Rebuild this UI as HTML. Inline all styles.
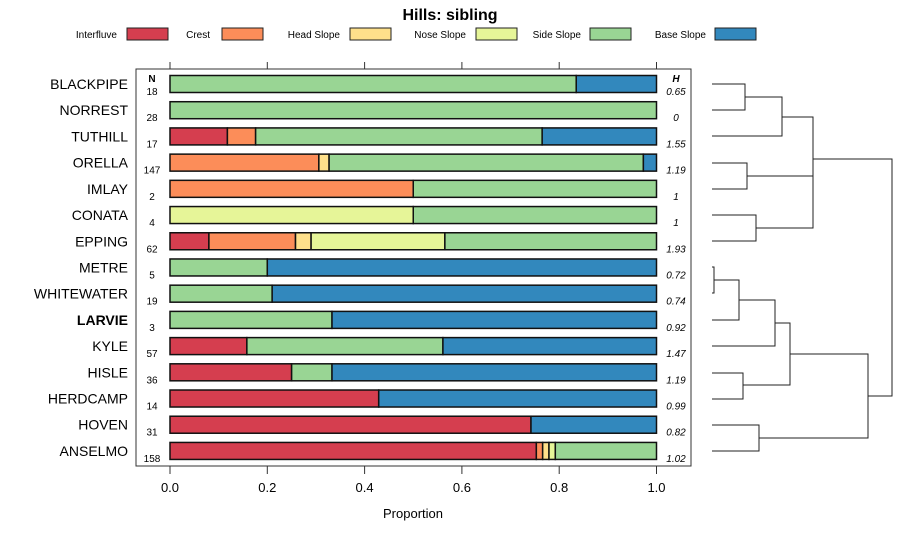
<!DOCTYPE html>
<html><head><meta charset="utf-8"><style>
body{margin:0;background:#fff;}
svg{display:block;font-family:"Liberation Sans",sans-serif;}
</style></head><body>
<svg id="c" width="900" height="540"></svg>
<script>
const categories=["BLACKPIPE","NORREST","TUTHILL","ORELLA","IMLAY","CONATA","EPPING","METRE","WHITEWATER","LARVIE","KYLE","HISLE","HERDCAMP","HOVEN","ANSELMO"];
const nValues=[18,28,17,147,2,4,62,5,19,3,57,36,14,31,158];
const hValues=["0.65","0","1.55","1.19","1","1","1.93","0.72","0.74","0.92","1.47","1.19","0.99","0.82","1.02"];
const seriesNames=["Interfluve","Crest","Head Slope","Nose Slope","Side Slope","Base Slope"];
const seriesColors=["#D53E4F","#FC8D59","#FEE08B","#E6F598","#99D594","#3288BD"];
const interfluve=[0,0,0.118,0,0,0,0.08,0,0,0,0.158,0.25,0.429,0.742,0.753];
const crest=[0,0,0.058,0.306,0.5,0,0.178,0,0,0,0,0,0,0,0.013];
const headSlope=[0,0,0,0.021,0,0,0.032,0,0,0,0,0,0,0,0.013];
const noseSlope=[0,0,0,0,0,0.5,0.275,0,0,0,0,0,0,0,0.013];
const sideSlope=[0.835,1,0.589,0.646,0.5,0.5,0.435,0.2,0.21,0.333,0.403,0.083,0,0,0.208];
const baseSlope=[0.165,0,0.235,0.027,0,0,0,0.8,0.79,0.667,0.439,0.667,0.571,0.258,0];
const xTicks=[0,0.2,0.4,0.6,0.8,1.0];
const series=[interfluve,crest,headSlope,noseSlope,sideSlope,baseSlope];

const svg=document.getElementById('c');
const NS='http://www.w3.org/2000/svg';
function mk(t,a,p){const e=document.createElementNS(NS,t);for(const k in a)e.setAttribute(k,a[k]);(p||svg).appendChild(e);return e;}
const X0=170,X1=656.5,Y0=84,DY=26.21,BH=17;
const xs=v=>X0+(X1-X0)*v;
const ys=i=>Y0+i*DY;

let t=mk('text',{x:450,y:20,'text-anchor':'middle','font-size':16,'font-weight':'bold'});t.textContent='Hills: sibling';



// legend
const legText=[117,210,340,466,581,706];
const legBox=[127,222,350,476,590,715];
seriesNames.forEach((n,i)=>{
  const g=mk('g',{});
  
  
  const tt=mk('text',{x:legText[i],y:38,'text-anchor':'end','font-size':10},g);tt.textContent=n;
  mk('rect',{x:legBox[i],y:28,width:41,height:12,fill:seriesColors[i],stroke:'#222','stroke-width':1},g);
});

// plot frame
const fr=mk('rect',{x:136,y:69,width:555,height:397,fill:'none',stroke:'#333','stroke-width':1});


xTicks.forEach(v=>{
  mk('line',{x1:xs(v),x2:xs(v),y1:62,y2:69,stroke:'#333'});
  mk('line',{x1:xs(v),x2:xs(v),y1:466,y2:474,stroke:'#333'});
  const l=mk('text',{x:xs(v),y:492,'text-anchor':'middle','font-size':13});l.textContent=v.toFixed(1);
  
  
});
const xt=mk('text',{x:413,y:518,'text-anchor':'middle','font-size':13});xt.textContent='Proportion';


let nh=mk('text',{x:152,y:82,'text-anchor':'middle','font-size':10,'font-weight':'bold'});nh.textContent='N';
let hh=mk('text',{x:676,y:82,'text-anchor':'middle','font-size':10,'font-weight':'bold','font-style':'italic'});hh.textContent='H';

categories.forEach((c,i)=>{
  const y=ys(i);
  const lab=mk('text',{x:128,y:y+5,'text-anchor':'end','font-size':14,'font-weight':c==='LARVIE'?'bold':'normal'});lab.textContent=c;
  
  
  const n=mk('text',{x:152,y:y+11,'text-anchor':'middle','font-size':10});n.textContent=nValues[i];
  const h=mk('text',{x:676,y:y+11,'text-anchor':'middle','font-size':10,'font-style':'italic'});h.textContent=hValues[i];
  let cum=0;
  series.forEach((s,k)=>{
    const v=s[i];if(v<=0)return;
    const r=mk('rect',{x:xs(cum),y:y-BH/2,width:xs(cum+v)-xs(cum),height:BH,fill:seriesColors[k],stroke:'#111','stroke-width':1.5});
    
    
    cum+=v;
  });
});

// dendrogram
const L=712;
const segs=[
 [[L,84],[745,84],[745,110],[L,110]],
 [[745,97],[782,97],[782,136],[L,136]],
 [[L,163],[747,163],[747,189],[L,189]],
 [[L,215],[756,215],[756,241],[L,241]],
 [[782,117],[813,117],[813,228],[756,228]],
 [[747,176],[813,176]],
 [[813,159],[892,159],[892,396],[868,396]],
 [[L,267],[714,267],[714,293],[L,293]],
 [[714,280],[739,280],[739,320],[L,320]],
 [[739,300],[775,300],[775,346],[L,346]],
 [[L,373],[743,373],[743,399],[L,399]],
 [[775,323],[790,323],[790,385],[743,385]],
 [[L,425],[759,425],[759,451],[L,451]],
 [[790,354],[868,354],[868,438],[759,438]]
];
segs.forEach(s=>{
  const p=mk('polyline',{points:s.map(q=>q.join(',')).join(' '),fill:'none',stroke:'#222','stroke-width':1});
  
  
});
</script>
</body></html>
